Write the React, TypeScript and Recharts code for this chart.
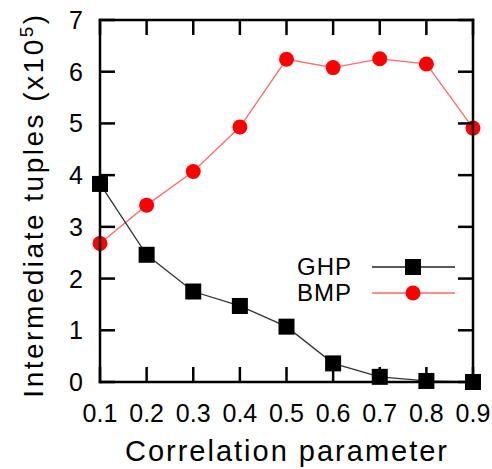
import { LineChart, Line, XAxis, YAxis } from "recharts";

const CORRELATION = [0.1, 0.2, 0.3, 0.4, 0.5, 0.6, 0.7, 0.8, 0.9];
const GHP = [3.83, 2.46, 1.75, 1.47, 1.07, 0.36, 0.1, 0.02, 0.0];
const BMP = [2.68, 3.42, 4.07, 4.93, 6.24, 6.08, 6.25, 6.15, 4.91];
const Y_TICKS = [0, 1, 2, 3, 4, 5, 6, 7];

const data = CORRELATION.map((c, i) => ({ c, ghp: GHP[i], bmp: BMP[i] }));

// plot box edges (layout only)
const PLOT_TOP = 20;
const PLOT_BOTTOM = 382;
const PLOT_LEFT = 100;
const PLOT_RIGHT = 473;
const TICK_LEN = 15;
const FONT = "'Liberation Sans', Arial, Helvetica, sans-serif";

// the frame is drawn from the end ticks so it always sits on the scale
function XTick(props: any) {
  const { x, payload, index } = props;
  const isEdge = index === 0 || index === CORRELATION.length - 1;
  return (
    <g>
      {isEdge && (
        <line x1={x} x2={x} y1={PLOT_TOP} y2={PLOT_BOTTOM} stroke="#000" strokeWidth={2.5} strokeLinecap="square" />
      )}
      <line x1={x} x2={x} y1={PLOT_BOTTOM} y2={PLOT_BOTTOM - TICK_LEN} stroke="#000" strokeWidth={2.5} />
      <line x1={x} x2={x} y1={PLOT_TOP} y2={PLOT_TOP + TICK_LEN} stroke="#000" strokeWidth={2.5} />
      <text x={x} y={422} textAnchor="middle" fontSize={25} fill="#000" fontFamily={FONT}>
        {Number(payload.value).toFixed(1)}
      </text>
    </g>
  );
}

function YTick(props: any) {
  const { y, payload, index } = props;
  const isEdge = index === 0 || index === Y_TICKS.length - 1;
  return (
    <g>
      {isEdge && (
        <line x1={PLOT_LEFT} x2={PLOT_RIGHT} y1={y} y2={y} stroke="#000" strokeWidth={2.5} strokeLinecap="square" />
      )}
      <line x1={PLOT_LEFT} x2={PLOT_LEFT + TICK_LEN} y1={y} y2={y} stroke="#000" strokeWidth={2.5} />
      <line x1={PLOT_RIGHT} x2={PLOT_RIGHT - TICK_LEN} y1={y} y2={y} stroke="#000" strokeWidth={2.5} />
      <text x={83} y={y + 9} textAnchor="end" fontSize={25} fill="#000" fontFamily={FONT}>
        {payload.value}
      </text>
    </g>
  );
}

function SquareDot(props: any) {
  const { cx, cy } = props;
  if (cx == null || cy == null) return null;
  return <rect x={cx - 8} y={cy - 8} width={16} height={16} fill="#000" />;
}

function CircleDot(props: any) {
  const { cx, cy } = props;
  if (cx == null || cy == null) return null;
  return <circle cx={cx} cy={cy} r={7.5} fill="#ff0000" />;
}

function LegendBox() {
  const rows = [
    { name: "GHP", color: "#222", marker: "square" },
    { name: "BMP", color: "#ff6a6a", marker: "circle" },
  ];
  return (
    <div
      style={{
        position: "absolute",
        left: 280,
        top: 254,
        fontFamily: FONT,
        fontSize: 24,
        lineHeight: "26px",
      }}
    >
      {rows.map((r) => (
        <div key={r.name} style={{ display: "flex", alignItems: "center", height: 26 }}>
          <span style={{ width: 72, textAlign: "right", color: "#000", letterSpacing: 1 }}>{r.name}</span>
          <svg width={103} height={26}>
            <line x1={20} x2={103} y1={13} y2={13} stroke={r.color} strokeWidth={1.5} />
            {r.marker === "square" ? (
              <rect x={53} y={5} width={16} height={16} fill="#000" />
            ) : (
              <circle cx={61} cy={13} r={7.5} fill="#ff0000" />
            )}
          </svg>
        </div>
      ))}
    </div>
  );
}

function YTitle() {
  return (
    <text
      x={43}
      y={205}
      transform="rotate(-90 43 205)"
      textAnchor="middle"
      fontSize={28}
      letterSpacing={2.5}
      fill="#000"
      fontFamily={FONT}
    >
      Intermediate tuples (x10
      <tspan fontSize={19} dy={-10}>5</tspan>
      <tspan dy={10}>)</tspan>
    </text>
  );
}

function XTitle() {
  return (
    <text x={287} y={461} textAnchor="middle" fontSize={29} letterSpacing={2} fill="#000" fontFamily={FONT}>
      Correlation parameter
    </text>
  );
}

export default function App() {
  return (
    <div style={{ position: "absolute", left: 0, top: 0, width: 492, height: 469, background: "#fff" }}>
      <LineChart
        width={492}
        height={469}
        data={data}
        margin={{ top: PLOT_TOP, right: 492 - PLOT_RIGHT, left: 30, bottom: 0 }}
      >
        <XAxis
          dataKey="c"
          type="number"
          domain={[0.1, 0.9]}
          ticks={CORRELATION}
          tick={<XTick />}
          tickLine={false}
          axisLine={false}
          height={469 - PLOT_BOTTOM}
          label={<XTitle />}
        />
        <YAxis
          type="number"
          domain={[0, 7]}
          ticks={Y_TICKS}
          tick={<YTick />}
          tickLine={false}
          axisLine={false}
          width={PLOT_LEFT - 30}
          label={<YTitle />}
        />
        <Line
          dataKey="bmp"
          stroke="#ff6a6a"
          strokeWidth={1.3}
          dot={<CircleDot />}
          isAnimationActive={false}
        />
        <Line
          dataKey="ghp"
          stroke="#333"
          strokeWidth={1.3}
          dot={<SquareDot />}
          isAnimationActive={false}
        />
      </LineChart>
      <LegendBox />
    </div>
  );
}
